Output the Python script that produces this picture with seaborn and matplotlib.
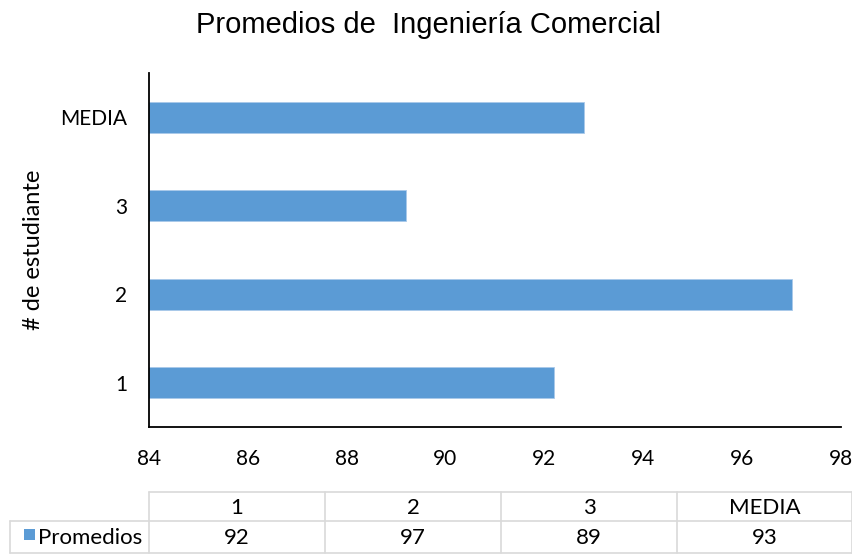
import matplotlib
matplotlib.use("Agg")
import matplotlib.pyplot as plt
from matplotlib.lines import Line2D
from matplotlib.patches import Rectangle
import seaborn as sns
import pandas as pd

# Student averages, Ingeniería Comercial
students = ["1", "2", "3", "MEDIA"]
promedios = [92.2, 97.0, 89.2, 92.8]
x_ticks = [84, 86, 88, 90, 92, 94, 96, 98]
series_name = "Promedios"

BLUE = "#5b9bd5"
GRID = "#d9d9d9"
W, H = 853, 554

sns.set_theme(style="white")
plt.rcParams["font.family"] = ["Lato", "DejaVu Sans"]
plt.rcParams["text.color"] = "black"
plt.rcParams["axes.labelcolor"] = "black"

fig = plt.figure(figsize=(W / 100, H / 100), dpi=100)
fig.patch.set_facecolor("white")

def fx(px):
    return px / W

def fy(py):
    return 1 - py / H

AX_L, AX_R, AX_T, AX_B = 148.7, 841, 73, 427
ax = fig.add_axes([fx(AX_L), fy(AX_B), fx(AX_R) - fx(AX_L), fy(AX_T) - fy(AX_B)])

df = pd.DataFrame({"estudiante": students, "promedio": promedios})
sns.barplot(data=df, x="promedio", y="estudiante", order=students[::-1],
            orient="h", color=BLUE, saturation=1, width=0.35,
            edgecolor="#a9c9ea", linewidth=0.6, ax=ax)

ax.set_xlim(x_ticks[0], x_ticks[-1])
ax.set_ylim(3.5, -0.5)
ax.set_xticks(x_ticks)
ax.set_xticklabels([str(t) for t in x_ticks])
ax.tick_params(axis="both", length=0, labelsize=15, colors="black")
ax.tick_params(axis="x", pad=16)
ax.tick_params(axis="y", pad=15.5)
ax.set_xlabel("")
ax.set_ylabel("# de estudiante", fontsize=17, color="black")
ax.yaxis.set_label_coords((44 - AX_L) / (AX_R - AX_L), 0.5)
for s in ["top", "right"]:
    ax.spines[s].set_visible(False)
for s in ["left", "bottom"]:
    ax.spines[s].set_color("black")
    ax.spines[s].set_linewidth(1.3)

fig.text(0.503, fy(33), "Promedios de  Ingeniería Comercial",
         ha="center", va="baseline", fontsize=21, family="Liberation Sans",
         color="black")

# Data table beneath the chart
col_edges = [149, 325, 501, 677, 852]
row_edges = [492, 521, 553]
label_left = 10

def hline(y, x0, x1):
    fig.add_artist(Line2D([fx(x0), fx(x1)], [fy(y), fy(y)], color=GRID, lw=1.2,
                          transform=fig.transFigure))

def vline(x, y0, y1):
    fig.add_artist(Line2D([fx(x), fx(x)], [fy(y0), fy(y1)], color=GRID, lw=1.2,
                          transform=fig.transFigure))

hline(row_edges[0], col_edges[0], col_edges[-1])
hline(row_edges[1], label_left, col_edges[-1])
hline(row_edges[2], label_left, col_edges[-1])
vline(label_left, row_edges[1], row_edges[2])
for x in col_edges:
    vline(x, row_edges[0], row_edges[2])

hdr_y = (row_edges[0] + row_edges[1]) / 2 + 1
val_y = (row_edges[1] + row_edges[2]) / 2 + 1
for i, (name, val) in enumerate(zip(students, promedios)):
    cx = (col_edges[i] + col_edges[i + 1]) / 2
    fig.text(fx(cx), fy(hdr_y), name, ha="center", va="center", fontsize=16)
    fig.text(fx(cx), fy(val_y), f"{val:.0f}", ha="center", va="center", fontsize=16)

fig.add_artist(Rectangle((fx(24), fy(540)), fx(11), fy(529) - fy(540),
                         facecolor=BLUE, edgecolor="none", transform=fig.transFigure))
fig.text(fx(38), fy(val_y), series_name, ha="left", va="center", fontsize=16)

fig.savefig("out.png", dpi=100, facecolor="white")
